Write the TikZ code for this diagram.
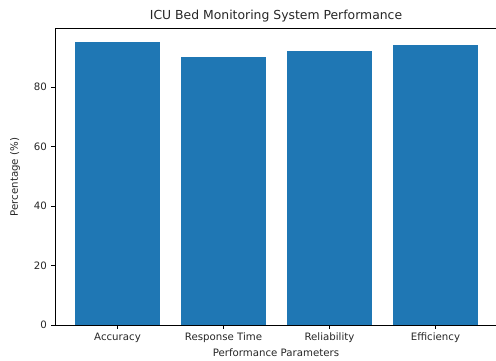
\documentclass[tikz,border=0pt]{standalone}
\usepackage{fontspec}
\setmainfont{DejaVu Sans}
\usetikzlibrary{positioning}

\definecolor{barblue}{HTML}{1F77B4}

\begin{document}
\begin{tikzpicture}[x=1pt, y=1pt,
                    barbox/.style={fill=barblue, draw=none},
                    spine/.style={draw=black, line width=0.85pt},
                    tickmark/.style={draw=black, line width=0.85pt},
                    ticklabel/.style={font=\fontsize{10.2}{12}\selectfont, text=black!85, inner sep=0pt},
                    axislabel/.style={font=\fontsize{10.2}{12}\selectfont, text=black!85, inner sep=0pt},
                    titlenode/.style={font=\fontsize{12.4}{14}\selectfont, text=black!85, inner sep=0pt},
                   ]
    \useasboundingbox (0,0) rectangle (496,360);

    %Labels
    \node[titlenode]                 (title)  at (276,344) {ICU Bed Monitoring System Performance};
    \node[axislabel]                 (xlabel) at (276,7)   {Performance Parameters};
    \node[axislabel, rotate=90]      (ylabel) at (15,183)  {Percentage (\%)};

    \begin{scope}[shift={(117.5pt,35pt)}, x=106pt, y=2.975pt]
        %Bars
        \fill[barbox] (-0.4,0) rectangle (0.4,95);
        \fill[barbox] (0.6,0)  rectangle (1.4,90);
        \fill[barbox] (1.6,0)  rectangle (2.4,92);
        \fill[barbox] (2.6,0)  rectangle (3.4,94);

        %Axes (right spine falls outside the picture)
        \draw[spine] (3.65,0) -- (-0.59,0) -- (-0.59,99.75) -- (3.65,99.75);

        %Y ticks
        \coordinate (t0)  at (-0.59,0);
        \coordinate (t20) at (-0.59,20);
        \coordinate (t40) at (-0.59,40);
        \coordinate (t60) at (-0.59,60);
        \coordinate (t80) at (-0.59,80);
        \draw[tickmark] (t0)  -- ++(-3.8pt,0) node[ticklabel, left=3.8pt] (y0)  {0};
        \draw[tickmark] (t20) -- ++(-3.8pt,0) node[ticklabel, left=3.8pt] (y20) {20};
        \draw[tickmark] (t40) -- ++(-3.8pt,0) node[ticklabel, left=3.8pt] (y40) {40};
        \draw[tickmark] (t60) -- ++(-3.8pt,0) node[ticklabel, left=3.8pt] (y60) {60};
        \draw[tickmark] (t80) -- ++(-3.8pt,0) node[ticklabel, left=3.8pt] (y80) {80};

        %X ticks
        \coordinate (acc) at (0,0);
        \coordinate (rt)  at (1,0);
        \coordinate (rel) at (2,0);
        \coordinate (eff) at (3,0);
        \draw[tickmark] (acc) -- ++(0,-3.8pt) node[ticklabel, below=3.8pt] (xacc) {Accuracy};
        \draw[tickmark] (rt)  -- ++(0,-3.8pt) node[ticklabel, below=3.8pt] (xrt)  {Response Time};
        \draw[tickmark] (rel) -- ++(0,-3.8pt) node[ticklabel, below=3.8pt] (xrel) {Reliability};
        \draw[tickmark] (eff) -- ++(0,-3.8pt) node[ticklabel, below=3.8pt] (xeff) {Efficiency};
    \end{scope}
\end{tikzpicture}
\end{document}
